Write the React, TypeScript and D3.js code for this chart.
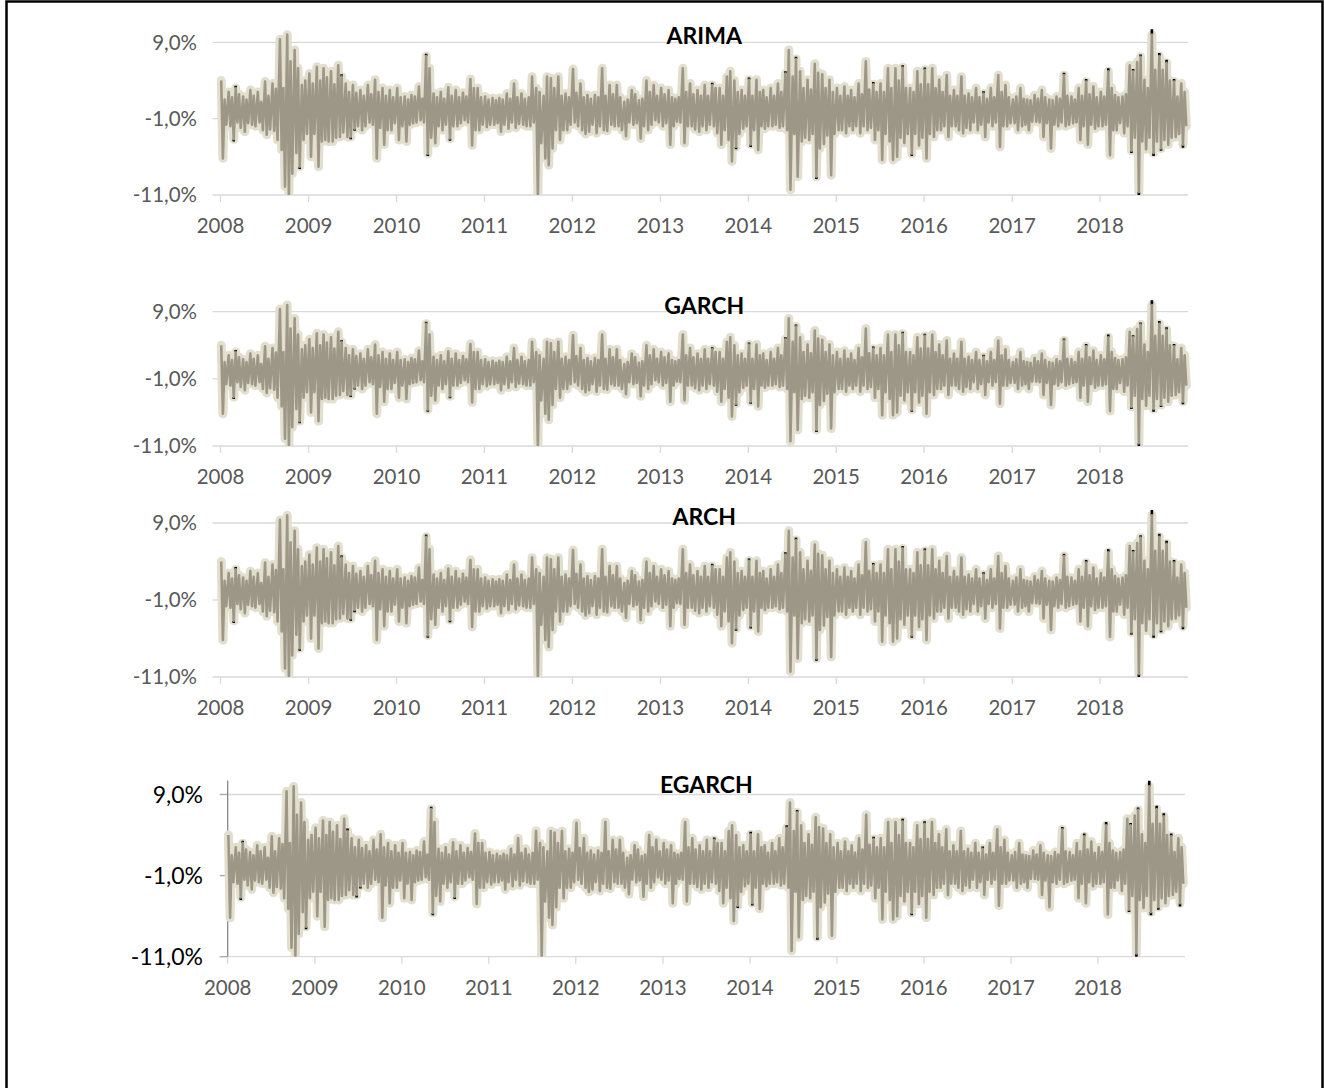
import React, { useEffect, useRef } from "react";
import * as d3 from "d3";

// model names, one panel each
const models = ["ARIMA", "GARCH", "ARCH", "EGARCH"];
const yTicks = [9, -1, -11];
const yearTicks = [2008, 2009, 2010, 2011, 2012, 2013, 2014, 2015, 2016, 2017, 2018];
// four readings per month
const obsDays = [4, 11, 18, 25];

// returns (%), 4 per month, Jan..Dec
const r2008 = [4.0, -6.2, 1.5, -1.8, 2.5, -2.0, 1.8, -3.7, 3.0, -1.5, 2.2, -2.2, 1.9, -2.7, 1.5, -1.6, 2.75, -1.8, 2.0, -2.0, 2.5, -1.5, 1.2, -2.5, 3.85, -3.1, 2.0, -2.4, 3.6, -2.6, 2.9, -3.8, 9.4, -5.1, 3.0, -9.9, 10.0, -11.0, 6.5, -8.2, 8.0, -5.5, 5.6, -7.3, 3.4, -3.8, 4.0, -3.0];
const r2009 = [4.9, -6.0, 3.6, -3.0, 5.8, -7.3, 4.0, -4.0, 5.6, -3.8, 4.4, -4.0, 5.2, -4.0, 3.5, -3.5, 6.0, -3.4, 4.5, -2.8, 3.6, -3.4, 2.5, -3.4, 3.4, -2.3, 2.4, -2.0, 2.75, -2.5, 2.0, -2.0, 3.4, -1.5, 2.2, -1.8, 4.1, -6.2, 2.5, -2.2, 3.0, -4.4, 2.0, -2.5, 2.75, -2.5, 1.8, -1.6];
const r2010 = [3.0, -3.8, 1.8, -2.0, 1.9, -4.0, 1.5, -1.8, 2.1, -1.6, 1.9, -1.5, 3.2, -1.2, 1.6, -1.5, 7.2, -5.6, 5.6, -3.5, 2.3, -4.2, 1.8, -2.0, 2.5, -2.5, 1.6, -1.8, 3.1, -3.6, 2.0, -2.0, 2.75, -2.0, 1.8, -1.6, 2.4, -1.2, 1.9, -1.5, 4.2, -4.5, 3.0, -2.5, 3.0, -2.5, 1.8, -1.8];
const r2011 = [1.9, -2.1, 1.5, -1.8, 1.7, -1.8, 1.4, -1.6, 1.7, -2.7, 1.5, -1.8, 2.3, -2.3, 1.6, -1.5, 3.6, -2.2, 1.8, -1.7, 2.3, -1.8, 1.6, -2.0, 1.8, -2.0, 4.5, -1.5, 3.0, -11.0, 2.5, -4.2, 2.0, -6.2, 4.5, -7.1, 4.3, -4.9, 3.0, -2.5, 4.5, -3.8, 2.0, -2.5, 2.3, -2.5, 1.8, -1.8];
const r2012 = [5.5, -1.5, 2.4, -2.0, 3.6, -2.5, 1.8, -3.0, 2.1, -2.7, 1.6, -1.8, 2.1, -2.9, 1.8, -2.0, 5.6, -2.5, 2.0, -2.6, 3.4, -1.8, 2.2, -2.0, 3.4, -2.0, 1.8, -2.5, 1.2, -3.3, 1.5, -1.5, 2.75, -1.8, 2.2, -1.6, 1.4, -3.6, 1.6, -2.0, 4.0, -2.5, 2.5, -1.8, 3.4, -1.2, 2.0, -1.5];
const r2013 = [3.0, -2.0, 2.2, -1.6, 2.75, -4.4, 1.8, -2.0, 1.6, -1.4, 1.8, -1.5, 5.6, -4.2, 2.5, -2.0, 3.6, -2.0, 2.2, -2.4, 2.75, -2.7, 2.0, -2.0, 3.4, -2.5, 2.0, -1.8, 3.4, -2.0, 3.0, -2.9, 3.0, -4.4, 2.0, -2.5, 4.5, -3.8, 5.2, -6.6, 4.0, -4.7, 2.5, -3.0, 2.75, -2.3, 2.0, -2.0];
const r2014 = [4.1, -4.4, 2.0, -2.5, 4.1, -5.1, 2.5, -2.0, 2.75, -2.3, 1.8, -2.0, 3.0, -2.0, 2.0, -1.8, 3.6, -2.2, 2.5, -2.0, 4.9, -2.5, 8.0, -10.3, 4.5, -3.0, 6.8, -8.6, 5.2, -4.0, 3.0, -3.5, 4.1, -3.8, 2.8, -3.0, 6.2, -8.6, 5.0, -4.9, 4.8, -4.3, 3.0, -3.2, 4.1, -8.4, 2.5, -3.0];
const r2015 = [3.0, -2.5, 2.0, -2.5, 3.2, -2.9, 2.0, -2.0, 2.75, -2.5, 1.8, -2.0, 3.6, -2.9, 2.2, -2.0, 6.5, -2.5, 2.8, -2.2, 3.5, -3.8, 2.5, -2.5, 3.6, -6.4, 2.5, -3.0, 5.6, -4.0, 3.0, -6.4, 5.6, -6.0, 4.0, -3.5, 5.7, -4.2, 3.0, -3.0, 3.0, -5.6, 2.5, -3.0, 5.2, -4.5, 3.5, -3.5];
const r2016 = [5.4, -6.2, 3.5, -3.0, 5.6, -3.4, 3.0, -2.5, 4.1, -2.5, 2.5, -2.0, 4.7, -3.4, 2.0, -2.0, 2.75, -2.0, 2.0, -2.5, 4.5, -2.9, 2.0, -2.2, 2.3, -2.5, 1.8, -1.5, 3.0, -2.5, 1.8, -1.8, 2.3, -3.4, 1.6, -1.5, 3.0, -2.0, 1.8, -1.5, 4.7, -4.7, 2.5, -2.0, 3.4, -2.0, 1.8, -1.6];
const r2017 = [1.5, -1.6, 1.9, -2.5, 3.0, -2.0, 1.6, -1.8, 1.5, -2.5, 1.4, -1.4, 2.1, -1.4, 1.6, -1.5, 2.75, -3.4, 1.8, -1.6, 1.5, -4.9, 1.4, -1.8, 1.9, -2.0, 1.6, -1.5, 4.7, -2.0, 2.0, -1.8, 1.9, -1.6, 1.5, -1.5, 3.0, -3.8, 2.0, -2.0, 3.85, -4.4, 2.2, -1.8, 3.2, -2.3, 1.8, -2.0];
const r2018 = [2.5, -2.0, 1.9, -1.8, 5.2, -5.8, 3.0, -2.5, 2.1, -2.5, 1.8, -1.6, 1.9, -2.9, 2.2, -2.0, 6.0, -5.2, 5.2, -3.5, 6.4, -10.6, 7.1, -4.0, 4.1, -5.0, 3.0, -3.5, 10.0, -5.5, 5.4, -4.0, 7.2, -4.9, 5.4, -3.8, 6.3, -4.4, 4.0, -3.5, 3.85, -3.4, 1.9, -3.0, 3.6, -4.4, 2.5, -2.0];

const returnsByYear: [number, number[]][] = [
  [2008, r2008], [2009, r2009], [2010, r2010], [2011, r2011], [2012, r2012], [2013, r2013],
  [2014, r2014], [2015, r2015], [2016, r2016], [2017, r2017], [2018, r2018],
];

// actual returns where they stick out beyond the fitted line (black tips)
const actualPeaks: [string, number][] = [
  ["2008-02-25", -4.0], ["2008-03-04", 3.3], ["2008-11-25", -7.6], ["2009-05-18", 4.8],
  ["2009-06-25", -3.7], ["2009-07-11", -2.6], ["2010-05-04", 7.5], ["2010-05-11", -5.9],
  ["2010-08-11", -3.9], ["2013-08-04", 3.7], ["2013-11-11", -5.0], ["2014-01-04", 4.4],
  ["2014-01-11", -4.7], ["2014-06-04", 5.2], ["2014-07-18", 7.1], ["2014-10-11", -8.9],
  ["2015-06-04", 3.8], ["2015-10-04", 6.0], ["2015-11-11", -5.9], ["2016-01-04", 5.7],
  ["2016-09-04", 2.6], ["2017-08-04", 5.0], ["2017-11-04", 4.2], ["2018-02-04", 5.6],
  ["2018-05-11", -5.5], ["2018-05-18", 5.5], ["2018-06-11", -11.3], ["2018-06-18", 7.4],
  ["2018-08-04", 10.7], ["2018-08-11", -5.9], ["2018-09-04", 7.6], ["2018-09-11", -5.2],
  ["2018-10-04", 6.7], ["2018-11-04", 4.2], ["2018-12-11", -4.8],
];

const W = 1324;
const H = 1088;
const FONT = "Lato, 'Open Sans', sans-serif";

// panel frames in page pixels
const frames = [
  { top: 42.3, bottom: 195, left: 220.5, right: 1188, titleDy: 2, big: false },
  { top: 311.7, bottom: 446, left: 220.5, right: 1188, titleDy: 2, big: false },
  { top: 523, bottom: 677, left: 220.5, right: 1188, titleDy: 2, big: false },
  { top: 794.5, bottom: 956.7, left: 227.7, right: 1185, titleDy: -2, big: true },
];

export default function App() {
  const svgRef = useRef<SVGSVGElement | null>(null);

  useEffect(() => {
    const series = returnsByYear.flatMap(([yr, vals]) =>
      vals.map((v, i) => ({ date: new Date(yr, Math.floor(i / 4), obsDays[i % 4]), value: v }))
    );
    const byTime = new Map(series.map((d) => [d.date.getTime(), d.value]));
    const parse = d3.timeParse("%Y-%m-%d");
    const peaks = actualPeaks.map(([s, v]) => {
      const date = parse(s) as Date;
      return { date, value: v, model: byTime.get(date.getTime()) ?? v };
    });

    const svgEl = d3.select(svgRef.current);
    svgEl.selectAll("*").remove();

    // outer frame
    svgEl.append("rect")
      .attr("x", 6.5).attr("y", 1.5)
      .attr("width", 1316).attr("height", 1095)
      .attr("fill", "none").attr("stroke", "#000").attr("stroke-width", 2.5);

    models.forEach((name, pi) => {
      const f = frames[pi];
      const x = d3.scaleTime()
        .domain([new Date(2008, 0, 1), new Date(2019, 0, 1)])
        .range([f.left, f.right]);
      const y = d3.scaleLinear().domain([-11, 9]).range([f.bottom, f.top]);

      const g = svgEl.append("g");

      // horizontal gridlines (with small outward tick)
      g.selectAll(".grid")
        .data(yTicks)
        .enter()
        .append("line")
        .attr("x1", f.big ? f.left : f.left - 8)
        .attr("x2", f.right)
        .attr("y1", (d) => y(d))
        .attr("y2", (d) => y(d))
        .attr("stroke", "#d9d9d9")
        .attr("stroke-width", 1.3);

      if (f.big) {
        g.selectAll(".ytick")
          .data(yTicks)
          .enter()
          .append("line")
          .attr("x1", f.left - 8).attr("x2", f.left)
          .attr("y1", (d) => y(d)).attr("y2", (d) => y(d))
          .attr("stroke", "#a6a6a6").attr("stroke-width", 1.3);
        g.append("line")
          .attr("x1", f.left).attr("x2", f.left)
          .attr("y1", f.top - 14).attr("y2", f.bottom)
          .attr("stroke", "#868686").attr("stroke-width", 1.3);
      }

      // year ticks below the axis
      g.selectAll(".xtick")
        .data(yearTicks)
        .enter()
        .append("line")
        .attr("x1", (d) => x(new Date(d, 0, 1)))
        .attr("x2", (d) => x(new Date(d, 0, 1)))
        .attr("y1", f.bottom)
        .attr("y2", f.bottom + 7)
        .attr("stroke", "#d9d9d9")
        .attr("stroke-width", 1.3);

      g.selectAll(".xlabel")
        .data(yearTicks)
        .enter()
        .append("text")
        .attr("x", (d) => x(new Date(d, 0, 1)))
        .attr("y", f.bottom + 38)
        .attr("text-anchor", "middle")
        .attr("font-family", FONT)
        .attr("font-size", 20.5)
        .attr("fill", "#595959")
        .text((d) => String(d));

      g.selectAll(".ylabel")
        .data(yTicks)
        .enter()
        .append("text")
        .attr("x", f.big ? 203 : 197)
        .attr("y", (d) => y(d))
        .attr("dy", "0.36em")
        .attr("text-anchor", "end")
        .attr("font-family", FONT)
        .attr("font-size", f.big ? 23 : 20.5)
        .attr("fill", f.big ? "#000" : "#595959")
        .text((d) => d.toFixed(1).replace(".", ",") + "%");

      const clipId = `clip-${pi}`;
      svgEl.append("clipPath")
        .attr("id", clipId)
        .append("rect")
        .attr("x", f.left - 4)
        .attr("y", f.top - 24)
        .attr("width", f.right - f.left + 8)
        .attr("height", f.bottom - f.top + 24);

      const plot = g.append("g").attr("clip-path", `url(#${clipId})`);
      const line = d3.line<{ date: Date; value: number }>()
        .x((d) => x(d.date))
        .y((d) => y(d.value));

      // wide pale band
      plot.append("path")
        .datum(series)
        .attr("fill", "none")
        .attr("stroke", "#e3dfcf")
        .attr("stroke-width", 9)
        .attr("stroke-linejoin", "round")
        .attr("stroke-linecap", "round")
        .attr("d", line);

      // actual returns poking out
      plot.selectAll(".peak")
        .data(peaks)
        .enter()
        .append("line")
        .attr("x1", (d) => x(d.date))
        .attr("x2", (d) => x(d.date))
        .attr("y1", (d) => y(d.value))
        .attr("y2", (d) => y(d.model))
        .attr("stroke", "#000")
        .attr("stroke-width", 2.6);

      // fitted line
      plot.append("path")
        .datum(series)
        .attr("fill", "none")
        .attr("stroke", "#9c9787")
        .attr("stroke-width", 2.6)
        .attr("stroke-linejoin", "round")
        .attr("d", line);

      g.append("text")
        .attr("x", (f.left + f.right) / 2)
        .attr("y", f.top + f.titleDy)
        .attr("text-anchor", "middle")
        .attr("font-family", FONT)
        .attr("font-weight", "bold")
        .attr("font-size", 23)
        .attr("fill", "#000")
        .text(name);
    });
  }, []);

  return (
    <svg
      ref={svgRef}
      width={W}
      height={H}
      style={{ position: "absolute", left: 0, top: 0, background: "#fff" }}
    />
  );
}
